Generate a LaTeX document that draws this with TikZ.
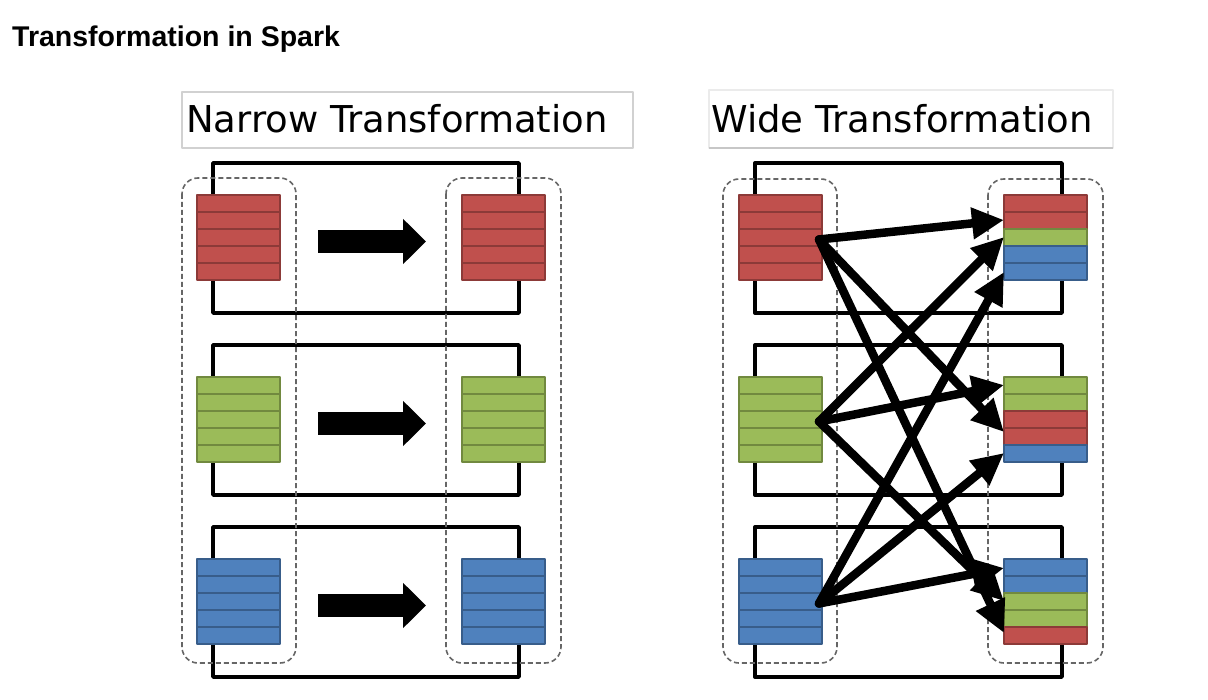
\documentclass[tikz,border=0pt]{standalone}
\usepackage{fontspec}
\setmainfont{Liberation Sans}
\newfontfamily\headfont{DejaVu Sans}
\usetikzlibrary{arrows.meta}
\usetikzlibrary{calc}
\usetikzlibrary{positioning}

\definecolor{redfill}{HTML}{C0504D}
\definecolor{redline}{HTML}{8C3A38}
\definecolor{greenfill}{HTML}{9BBB59}
\definecolor{greenline}{HTML}{71893F}
\definecolor{bluefill}{HTML}{4F81BD}
\definecolor{blueline}{HTML}{385D8A}

\tikzset{
  partframe/.style={minimum width=83pt,minimum height=85pt,inner sep=0pt,outer sep=0pt},
  stripe/.style={fill=#1fill,draw=#1line,line width=2.4pt},
  taskbox/.style={draw=black,line width=3.4pt},
  stagebox/.style={draw=black!60,dash pattern=on 5pt off 3pt,line width=1.6pt,rounded corners=16pt},
  headbox/.style={draw=black!18,line width=1.2pt},
  moveto/.style={line width=23pt,-{Triangle[length=23pt,width=44pt]}},
  shuffle/.style={line width=8.5pt,line cap=round,-{Triangle[length=32pt,width=30pt]}}
}

% one partition: name, left, top, colours of the five records
\newcommand{\partblock}[4]{%
  \node[partframe,anchor=north west] (#1) at (#2,#3) {};
  \foreach \col [count=\i from 0] in {#4}
    \draw[stripe=\col] ($(#1.north west)+(0,17*\i)$) rectangle ++(83,17);
}

\begin{document}
\begin{tikzpicture}[line join=round,x=1pt,y=-1pt]
\fill[white] (0,0) rectangle (1208,700);
\useasboundingbox (0,0) rectangle (1208,700);

\node[anchor=base west,inner sep=0pt,font=\bfseries\fontsize{28.5}{32}\selectfont] (title) at (12,47) {Transformation in Spark};

% headers
\draw[headbox] (182,92) rectangle (633,148);
\node[anchor=base west,inner sep=0pt,font=\headfont\fontsize{37}{40}\selectfont] (narrowhead) at (186,133) {Narrow Transformation};
\draw[draw=black!8,line width=1.2pt] (709,90) rectangle (1113,148);
\draw[draw=black!22,line width=1.5pt] (709,148) -- (1113,148);
\node[anchor=base west,inner sep=0pt,font=\headfont\fontsize{37}{40}\selectfont] (widehead) at (711,133) {Wide Transformation};

% tasks
\foreach \dy in {0,182,364} {
  \draw[taskbox] (213,163+\dy) rectangle (519,313+\dy);
  \draw[taskbox] (755,163+\dy) rectangle (1062,313+\dy);
}

% stages
\draw[stagebox] (182,178) rectangle (296,663);
\draw[stagebox] (446,178) rectangle (561,663);
\draw[stagebox] (723,179) rectangle (837,663);
\draw[stagebox] (988,179) rectangle (1103,663);

% narrow
\partblock{nL1}{197}{195}{red,red,red,red,red}
\partblock{nL2}{197}{377}{green,green,green,green,green}
\partblock{nL3}{197}{559}{blue,blue,blue,blue,blue}
\partblock{nR1}{462}{195}{red,red,red,red,red}
\partblock{nR2}{462}{377}{green,green,green,green,green}
\partblock{nR3}{462}{559}{blue,blue,blue,blue,blue}
\foreach \k in {1,2,3}
  \draw[moveto] ($(nL\k.east)+(38,4)$) -- ($(nR\k.west)+(-36,4)$);

% wide
\partblock{wL1}{739}{195}{red,red,red,red,red}
\partblock{wL2}{739}{377}{green,green,green,green,green}
\partblock{wL3}{739}{559}{blue,blue,blue,blue,blue}
\partblock{wR1}{1004}{195}{red,red,green,blue,blue}
\partblock{wR2}{1004}{377}{green,green,red,red,blue}
\partblock{wR3}{1004}{559}{blue,blue,green,green,red}
\foreach \src/\dst/\off in {wL1/wR1/25,wL1/wR2/55,wL1/wR3/74,wL2/wR1/42,wL2/wR2/8,wL2/wR3/42,wL3/wR1/77,wL3/wR2/76,wL3/wR3/9}
  \draw[shuffle] ($(\src.east)+(-3,2)$) -- ($(\dst.north west)+(0,\off)$);
\end{tikzpicture}
\end{document}
